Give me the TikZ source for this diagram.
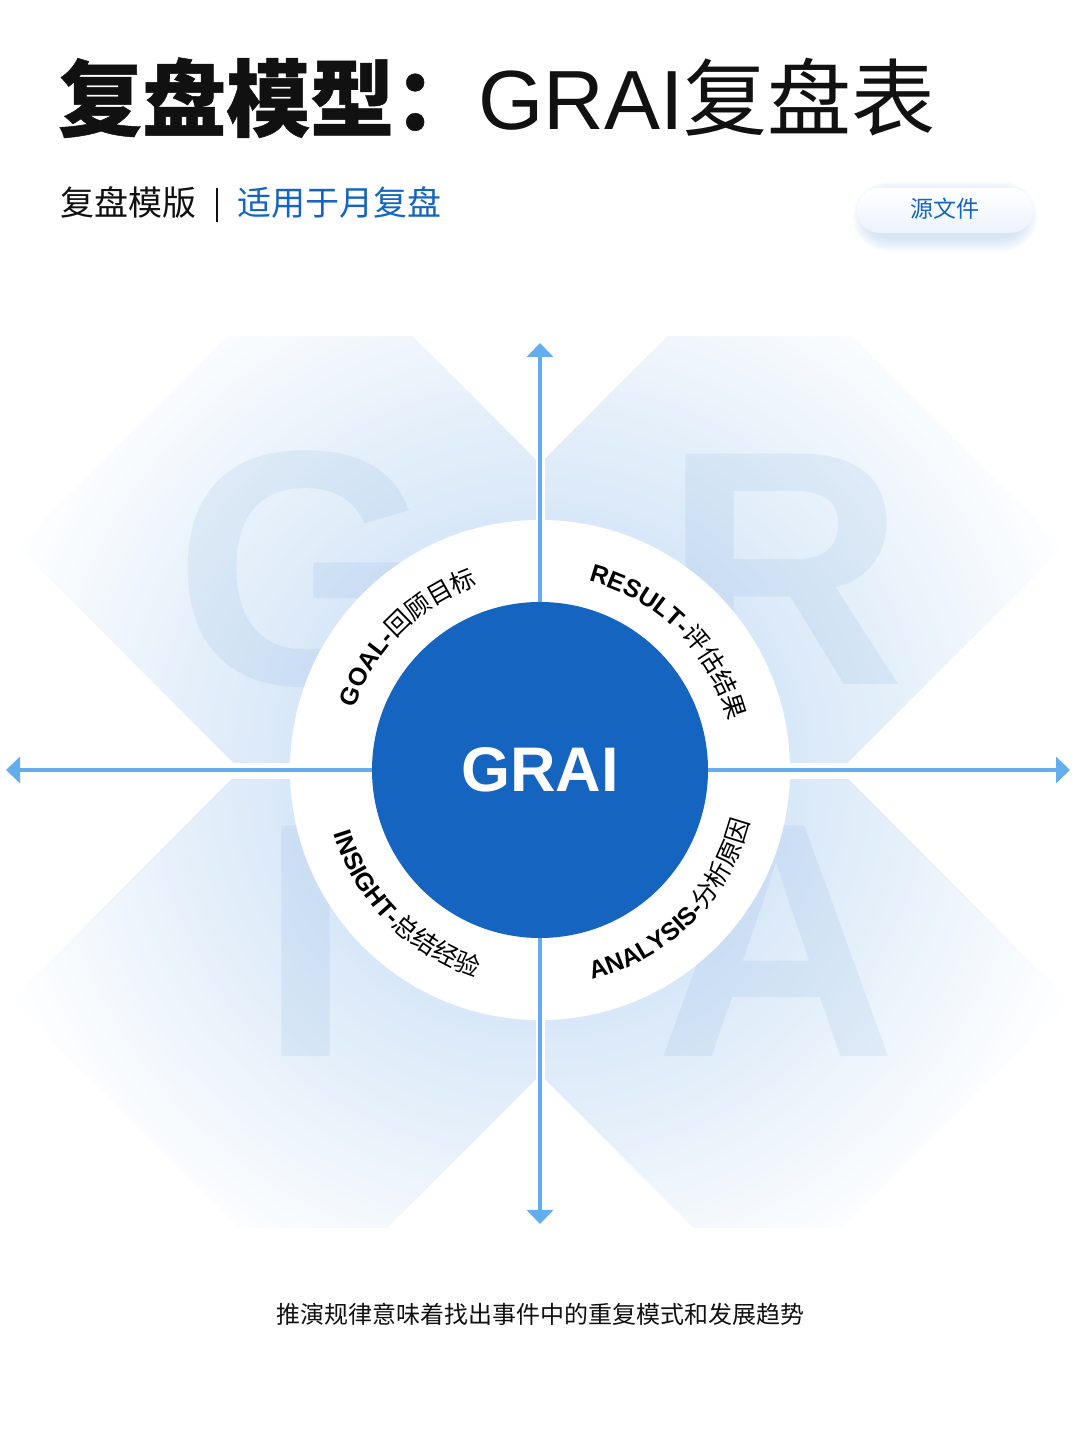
\documentclass[tikz,border=0pt]{standalone}
\usepackage{fontspec}
\setmainfont{Liberation Sans}
\newfontfamily\cjk{Noto Sans CJK SC}
\usetikzlibrary{arrows.meta,decorations.text}
\definecolor{mainblue}{HTML}{1565C0}
\definecolor{axisblue}{HTML}{64AEEF}
\definecolor{bgblue}{HTML}{D9E8F8}
\definecolor{shadowc}{HTML}{A9C8EE}
\definecolor{inkblack}{HTML}{111111}
\definecolor{pillbottom}{HTML}{EDF3FC}
\newcommand\lblfont{\fontsize{25}{25}\selectfont\bfseries\rmfamily}
\newcommand\lblcjkfont{\fontsize{25}{25}\selectfont\mdseries\cjk}
\tikzset{
  bigletter/.style={anchor=base, inner sep=0pt, text=mainblue, text opacity=0.07,
    font=\fontsize{335}{335}\selectfont\bfseries},
  axisline/.style={draw=axisblue, line width=4pt, -{Triangle[width=26pt,length=14pt]}},
  ringlabel/.style={decorate, decoration={text along path, text align=center, text={#1}}},
}
\newcommand\radialfade{%
  \foreach \i in {0,...,40}{%
    \pgfmathsetmacro\rad{580-\i*8}%
    \pgfmathsetmacro\pct{100*\i/40}%
    \fill[bgblue!\pct!white] (540,670) circle (\rad);%
  }}
\begin{document}
\begin{tikzpicture}[x=1pt,y=1pt]
\useasboundingbox (0,0) rectangle (1080,1440);
\fill[white] (0,0) rectangle (1080,1440);

% background quadrant shapes (radial fade from the centre outwards)
\begin{scope}
  \clip (228,1103) -- (18,893) -- (234,677) -- (535,677) -- (535,980) -- (412,1103) -- cycle;
  \radialfade
\end{scope}
\begin{scope}
  \clip (852,1103) -- (1062,893) -- (846,677) -- (545,677) -- (545,980) -- (668,1103) -- cycle;
  \radialfade
\end{scope}
\begin{scope}
  \clip (232,660) -- (11.5,439.5) -- (239,212) -- (386,212) -- (535,361) -- (535,660) -- cycle;
  \radialfade
\end{scope}
\begin{scope}
  \clip (848,660) -- (1068.5,439.5) -- (841,212) -- (694,212) -- (545,361) -- (545,660) -- cycle;
  \radialfade
\end{scope}

% big background letters
\node[bigletter] (lG) at (305,755) {G};
\node[bigletter] (lR) at (784,755) {R};
\node[bigletter] (lI) at (306,383) {I};
\node[bigletter] (lA) at (776,383) {A};

% ring and core
\node[circle, fill=white, minimum size=500pt, inner sep=0pt] (ring) at (540,670) {};
\node[circle, fill=mainblue, minimum size=336pt, inner sep=0pt, text=white,
      font=\fontsize{63}{63}\selectfont\bfseries] (core) at (540,670) {GRAI};

% axes
\coordinate (topend) at (540,1097);
\coordinate (bottomend) at (540,216);
\coordinate (leftend) at (6,670);
\coordinate (rightend) at (1070,670);
\draw[axisline] (core) -- (topend);
\draw[axisline] (core) -- (bottomend);
\draw[axisline] (core) -- (leftend);
\draw[axisline] (core) -- (rightend);

% ring labels
\path[ringlabel={|\lblfont|GOAL-|\lblcjkfont|回顾目标}] (345,670) arc[start angle=180, end angle=90, radius=195];
\path[ringlabel={|\lblfont|RESULT-|\lblcjkfont|评估结果}] (540,865) arc[start angle=90, end angle=0, radius=195];
\path[ringlabel={|\lblfont|INSIGHT-|\lblcjkfont|总结经验}] (324,670) arc[start angle=180, end angle=270, radius=216];
\path[ringlabel={|\lblfont|ANALYSIS-|\lblcjkfont|分析原因}] (540,454) arc[start angle=270, end angle=360, radius=216];

% title
\node[anchor=base west, inner sep=0pt, text=inkblack] (title) at (58,1310)
  {\fontsize{84}{84}\selectfont\cjk\bfseries\addfontfeature{FakeBold=0.6}复盘模型：\mdseries\rmfamily GRAI\cjk 复盘表};

% subtitle
\node[anchor=base west, inner sep=0pt, text=inkblack] (sub1) at (60,1224)
  {\fontsize{34}{34}\selectfont\cjk 复盘模版};
\draw[inkblack, line width=2.5pt] (217,1218) -- (217,1252);
\node[anchor=base west, inner sep=0pt, text=mainblue] (sub2) at (237,1224)
  {\fontsize{34}{34}\selectfont\cjk 适用于月复盘};

% button shadow and button
\foreach \k in {0,...,9}{
  \pgfmathsetmacro\rr{22+\k*1.5}
  \fill[shadowc, opacity=0.05, rounded corners=\rr pt]
    ({866-\k*1.5},{1202-\k*1.5}) rectangle ({1024+\k*1.5},{1245+\k*1.5});
}
\node[rectangle, rounded corners=22.5pt, minimum width=176pt, minimum height=45pt,
      top color=white, bottom color=pillbottom, inner sep=0pt, text=mainblue,
      font=\fontsize{23}{23}\selectfont\cjk] (btn) at (945,1229.5) {\raisebox{5pt}{源文件}};

% caption
\node[anchor=base, inner sep=0pt, text=inkblack] (caption) at (540,116)
  {\fontsize{24}{24}\selectfont\cjk 推演规律意味着找出事件中的重复模式和发展趋势};
\end{tikzpicture}
\end{document}
